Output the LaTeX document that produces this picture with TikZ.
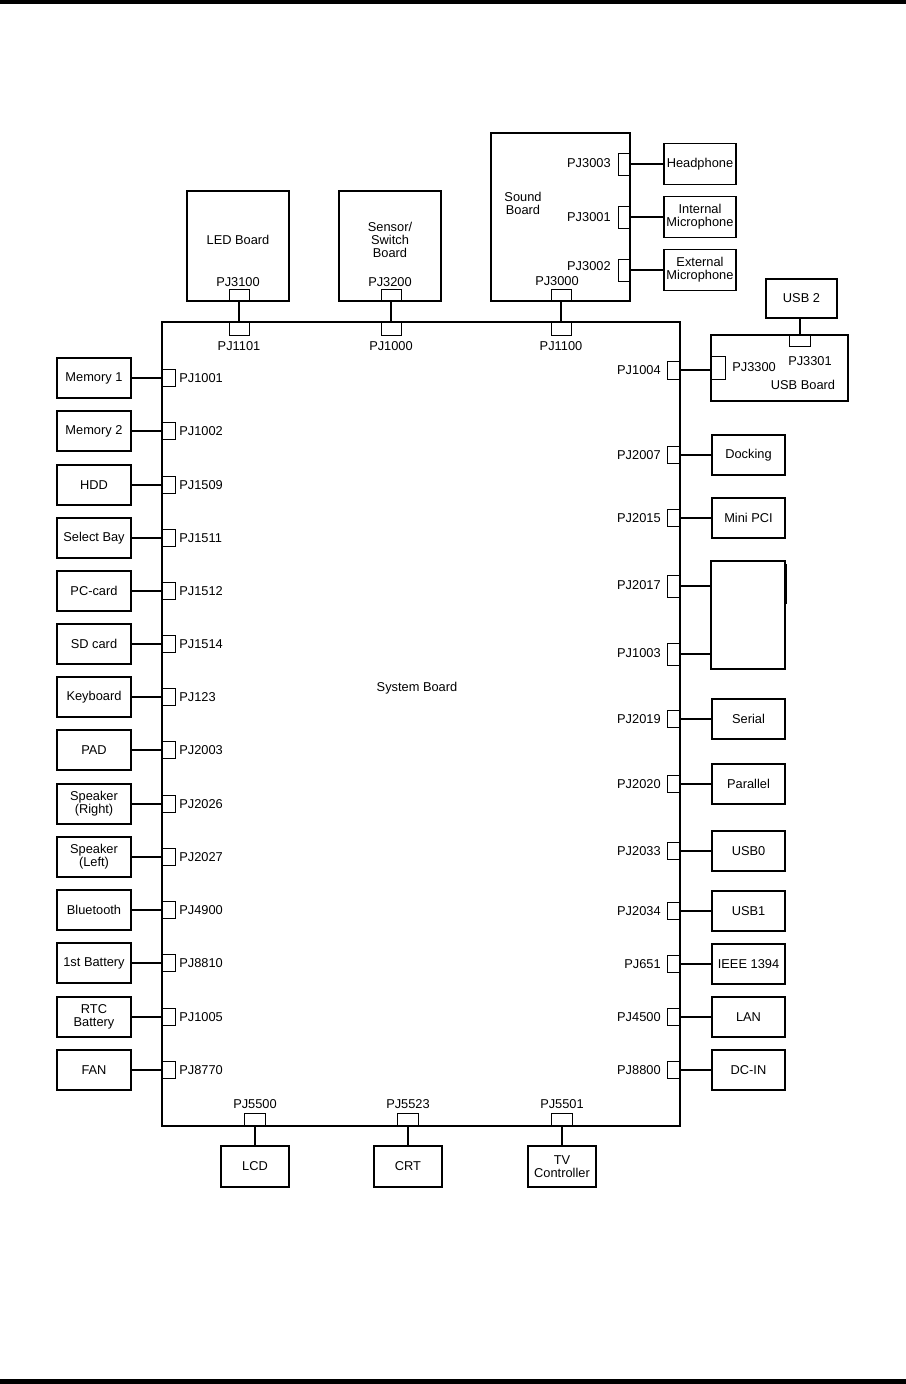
\documentclass[tikz,border=0pt]{standalone}
\usepackage{fontspec}
\setmainfont{Liberation Sans}
\usetikzlibrary{positioning}

\begin{document}
\begin{tikzpicture}[x=0.02cm, y=-0.02cm,
  font=\fontsize{7.3}{7.4}\selectfont, every node/.style={align=center, inner sep=0pt},
  board/.style={draw, line width=1.2pt, minimum width=10.36cm, minimum height=16.08cm},
  dev/.style={draw, line width=1pt, minimum width=1.46cm, minimum height=0.8cm},
  conn/.style={draw, line width=0.4pt, minimum width=0.26cm, minimum height=0.34cm},
  hconn/.style={draw, line width=0.4pt, minimum width=0.4cm, minimum height=0.24cm},
  wire/.style={line width=1.1pt}]
  \useasboundingbox (0,0) rectangle (906,1384);
  \fill (0,0) rectangle (906,4);
  \fill (0,1379) rectangle (906,1384);

  % system board
  \node[board] (sys) at (421,724) {};
  \node (syslbl) at (417,688) {System Board};

  % left side
  \foreach \y/\i/\name/\pj in {378/0/Memory 1/1001, 431/1/Memory 2/1002, 485/2/HDD/1509,
      538/3/Select Bay/1511, 591/4/PC-card/1512, 644/5/SD card/1514, 697/6/Keyboard/123,
      750/7/PAD/2003, 804/8/{Speaker\\(Right)}/2026, 857/9/{Speaker\\(Left)}/2027,
      910/10/Bluetooth/4900, 963/11/1st Battery/8810, 1017/12/{RTC\\Battery}/1005,
      1070/13/FAN/8770}{
    \node[dev, minimum width=1.48cm] (l\i) at (94,\y) {\name};
    \node[conn] (lc\i) at (168.5,\y) {};
    \node[anchor=west] (lp\i) at (179,\y) {PJ\pj};
    \draw[wire] (l\i) -- (lc\i);
  }

  % right side
  \foreach \y/\name/\pj in {455/Docking/2007, 518/Mini PCI/2015, 719/Serial/2019,
      784/Parallel/2020, 851/USB0/2033, 911/USB1/2034, 964/IEEE 1394/651,
      1017/LAN/4500, 1070/DC-IN/8800}{
    \node[dev] (r\pj) at (748.5,\y) {\name};
    \node[conn] (rc\pj) at (673.5,\y) {};
    \node[anchor=east] (rp\pj) at (661,\y) {PJ\pj};
    \draw[wire] (rc\pj) -- (r\pj);
  }
  \node[draw, line width=1pt, minimum width=1.48cm, minimum height=2.16cm] (bay) at (748,615) {};
  \draw[line width=1.1pt] (786,564) -- (786,604);
  \node[conn, minimum height=0.44cm] (rc2017) at (673.5,586) {};
  \node[anchor=east] (rp2017) at (661,585) {PJ2017};
  \node[conn, minimum height=0.44cm] (rc1003) at (673.5,654) {};
  \node[anchor=east] (rp1003) at (661,653) {PJ1003};
  \draw[wire] (rc2017) -- (rc2017 -| bay.west);
  \draw[wire] (rc1003) -- (rc1003 -| bay.west);

  % USB board
  \node[draw, line width=1pt, minimum width=2.74cm, minimum height=1.32cm] (usbb) at (779.5,368) {};
  \node (usbblbl) at (803,385) {USB Board};
  \node[conn, minimum height=0.36cm] (rc1004) at (673.5,370) {};
  \node[anchor=east] (rp1004) at (661,370) {PJ1004};
  \node[conn, minimum width=0.28cm, minimum height=0.46cm] (c3300) at (718,368) {};
  \node[anchor=west] (p3300) at (732,367) {PJ3300};
  \node[dev, minimum width=1.42cm, minimum height=0.78cm] (usb2) at (801.5,298.5) {USB 2};
  \node[hconn, minimum width=0.42cm, minimum height=0.22cm] (c3301) at (800,340.5) {};
  \node (p3301) at (810,361) {PJ3301};
  \draw[wire] (rc1004) -- (rc1004 -| c3300.west);
  \draw[line width=0.6pt] (c3301.north) -- (c3301 |- usb2.south);

  % top boards
  \node[draw, line width=1pt, minimum width=2.04cm, minimum height=2.2cm] (led) at (238,246) {};
  \node (ledlbl) at (238,240) {LED Board};
  \node[draw, line width=1pt, minimum width=2.04cm, minimum height=2.2cm] (sensor) at (390,246) {};
  \node (sensorlbl) at (390,240) {Sensor/\\Switch\\Board};
  \node[draw, line width=1pt, minimum width=2.78cm, minimum height=3.36cm] (sound) at (560.5,217) {};
  \node (soundlbl) at (523,203) {Sound\\Board};
  \foreach \x/\up/\dn in {239/3100/1101, 391/3200/1000, 561/3000/1100}{
    \node[hconn] (c\up) at (\x,295.5) {};
    \node[hconn, minimum height=0.26cm] (c\dn) at (\x,328.5) {};
    \node (p\dn) at (\x,346) {PJ\dn};
    \draw[wire] (c\up) -- (c\dn);
  }
  \node (p3100) at (238,282) {PJ3100};
  \node (p3200) at (390,282) {PJ3200};
  \node (p3000) at (557,281) {PJ3000};

  % sound board jacks
  \foreach \y/\ly/\name/\pj in {164/163/Headphone/3003, 217/217/{Internal\\Microphone}/3001,
      270/266/{External\\Microphone}/3002}{
    \node[dev, minimum width=1.44cm, minimum height=0.82cm] (s\pj) at (700,\y) {\name};
    \node[conn, minimum width=0.24cm, minimum height=0.44cm] (c\pj) at (624,\y) {};
    \node[anchor=east] (p\pj) at (611,\ly) {PJ\pj};
    \draw[wire] (c\pj) -- (s\pj);
  }

  % bottom
  \foreach \x/\name/\pj in {255/LCD/5500, 408/CRT/5523, 562/{TV\\Controller}/5501}{
    \node[dev, minimum width=1.36cm, minimum height=0.82cm] (b\pj) at (\x,1166.5) {\name};
    \node[hconn, minimum width=0.42cm, minimum height=0.26cm] (c\pj) at (\x,1119.5) {};
    \node (p\pj) at (\x,1104) {PJ\pj};
    \draw[wire] (c\pj) -- (b\pj);
  }
\end{tikzpicture}
\end{document}
